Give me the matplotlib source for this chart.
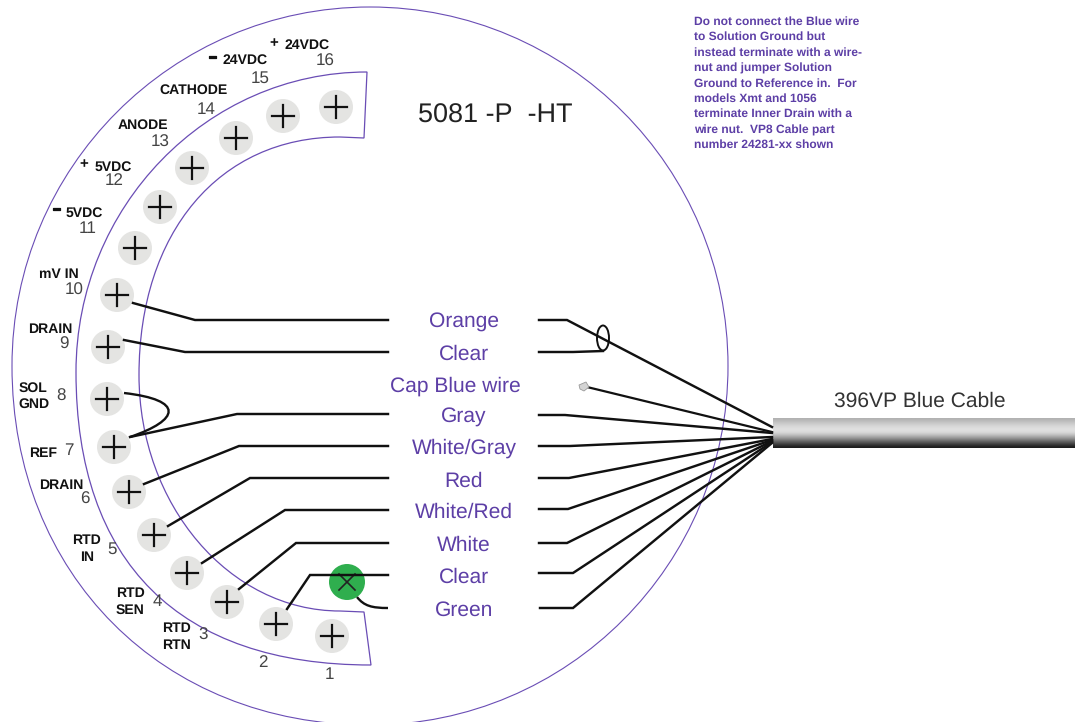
import matplotlib
matplotlib.use("Agg")
import matplotlib.pyplot as plt
import matplotlib.patheffects as pe
import numpy as np
from matplotlib.patches import Circle, Ellipse, PathPatch, Polygon
from matplotlib.path import Path

plt.rcParams['font.family'] = ['Liberation Sans', 'DejaVu Sans']
plt.rcParams['text.hinting'] = 'no_hinting'
plt.rcParams['text.hinting_factor'] = 1

PURPLE = '#5d3fa6'
RING = '#6a4db5'

# terminal screws, 1 to 16, picture coordinates
screw_x = [332, 276, 227, 187, 154, 129, 114, 107, 108, 117, 135, 160, 192, 236, 283, 336]
screw_y = [636, 624, 602, 573, 535, 492, 447, 399, 347, 295, 248, 207, 168, 138, 116, 107]

terminal_nums = ['1', '2', '3', '4', '5', '6', '7', '8', '9', '10', '11', '12', '13', '14', '15', '16']
num_x = [329, 263, 203, 157, 112, 85, 69, 61, 64, 74, 88, 114, 160, 206, 260, 325]
num_y = [673, 661, 634, 600, 548, 498, 449, 395, 343, 289, 227, 179, 141, 108, 77, 60]

term_labels = ['RTD', 'RTN', 'RTD', 'SEN', 'RTD', 'IN', 'DRAIN', 'REF', 'SOL', 'GND', 'DRAIN', 'mV IN',
               '5VDC', '5VDC', 'ANODE', 'CATHODE', '24VDC', '24VDC']
term_label_x = [176, 176, 130, 130, 86, 87, 61, 43, 33, 34, 50, 59, 84, 113, 143, 194, 245, 307]
term_label_y = [627, 644, 592, 609, 539, 556, 484, 452, 387, 403, 328, 273, 212, 166, 124, 89, 59, 44]

minus_x = [57, 213]
minus_y = [209, 57]
plus_x = [84, 274]
plus_y = [164, 43]

# wire colours in the middle column
wire_names = ['Orange', 'Clear', 'Cap Blue wire', 'Gray', 'White/Gray', 'Red', 'White/Red', 'White', 'Clear', 'Green']
wire_name_x = [464, 464, 455, 464, 464, 464, 464, 464, 464, 464]
wire_name_y = [320, 352, 384, 415, 446, 479, 510, 543, 575, 608]

# left hand runs, screw to label
left_x = [[133, 195, 388], [124, 185, 388], [130, 237, 388], [144, 239, 388], [168, 250, 388],
          [202, 285, 388], [239, 296, 388], [287, 310, 388]]
left_y = [[303, 320, 320], [340, 352, 352], [437, 414, 414], [484, 446, 446], [526, 478, 478],
          [563, 510, 510], [589, 543, 543], [609, 575, 575]]

# right hand runs, label to cable end
right_x = [[539, 567, 772], [539, 565, 772], [539, 570, 772], [539, 569, 772], [539, 568, 772],
           [539, 567, 772], [539, 573, 772], [540, 573, 772]]
right_y = [[320, 320, 427], [415, 415, 433], [446, 446, 437], [478, 478, 439], [509, 509, 440],
           [543, 543, 441], [573, 573, 442], [608, 608, 443]]
clear_x = [539, 573, 603]
clear_y = [352, 352, 351]
cap_x = [587, 772]
cap_y = [387, 432]

note_lines = ['Do not connect the Blue wire', 'to Solution Ground but', 'instead terminate with a wire-',
              'nut and jumper Solution', 'Ground to Reference in.  For', 'models Xmt and 1056',
              'terminate Inner Drain with a', 'wire nut.  VP8 Cable part', 'number 24281-xx shown']
note_y = [21, 36, 52, 67, 83, 98, 113, 129, 144]

fig = plt.figure(figsize=(10.75, 7.22), dpi=100)
ax = fig.add_axes([0, 0, 1, 1])
ax.set_xlim(0, 1075)
ax.set_ylim(722, 0)
ax.axis('off')


def quarter(start, end, k):
    # cubic from a side point (vertical tangent) to a top/bottom point (flat tangent)
    sx, sy = start
    ex, ey = end
    return [(sx, sy + k * (ey - sy)), (ex + k * (sx - ex), ey), end]


def draw_curve(start, segs, **kw):
    verts = [start]
    codes = [Path.MOVETO]
    for s in segs:
        if len(s) == 3:
            verts += s
            codes += [Path.CURVE4] * 3
        else:
            verts += s
            codes += [Path.LINETO]
    ax.add_patch(PathPatch(Path(verts, codes), fc='none', **kw))


# housing
draw_curve((12, 366), [quarter((12, 366), (370, 7), 0.5523)], ec=RING, lw=0.8)
draw_curve((12, 366), [quarter((12, 366), (370, 725), 0.58)], ec=RING, lw=0.8)
draw_curve((728, 366), [quarter((728, 366), (370, 7), 0.5523)], ec=RING, lw=0.8)
draw_curve((728, 366), [quarter((728, 366), (370, 725), 0.5523)], ec=RING, lw=0.8)

# terminal strip
draw_curve((76, 372), [quarter((76, 372), (367, 72), 0.55), [(364, 138)], [(340, 137)]], ec=RING, lw=0.9)
draw_curve((76, 372), [quarter((76, 372), (371, 665), 0.65), [(364, 612)], [(340, 611)]], ec=RING, lw=0.9)
draw_curve((139, 375), [quarter((139, 375), (340, 137), 0.6)], ec=RING, lw=0.9)
draw_curve((139, 375), [quarter((139, 375), (340, 611), 0.55)], ec=RING, lw=0.9)

# screws
for x, y in zip(screw_x, screw_y):
    ax.add_patch(Circle((x, y), 17, fc='#e4e4e2', ec='none', zorder=2))
    ax.plot([x - 11, x + 11], [y, y], color='#111111', lw=1.6, zorder=3)
    ax.plot([x, x], [y - 11, y + 11], color='#111111', lw=1.6, zorder=3)

# green ground screw
ax.add_patch(Circle((347, 582), 18, fc='#2fae4e', ec='none', zorder=2))
ax.plot([339, 355], [574, 590], color='#222222', lw=1.2, zorder=3)
ax.plot([339, 355], [590, 574], color='#222222', lw=1.2, zorder=3)

# wires
for xs, ys in zip(left_x, left_y):
    ax.plot(xs, ys, color='#111111', lw=1.75, solid_joinstyle='miter', zorder=4)
for xs, ys in zip(right_x, right_y):
    ax.plot(xs, ys, color='#111111', lw=1.75, solid_joinstyle='miter', zorder=4)
ax.plot(clear_x, clear_y, color='#111111', lw=1.75, zorder=4)
ax.plot(cap_x, cap_y, color='#111111', lw=1.6, zorder=4)

# jumper 8 to 7 and the green pigtail
jumper = Path([(124, 393), (185, 400), (180, 420), (130, 437)], [Path.MOVETO, Path.CURVE4, Path.CURVE4, Path.CURVE4])
ax.add_patch(PathPatch(jumper, fc='none', ec='#111111', lw=1.7, zorder=4))
pigtail = Path([(357, 597), (364, 606), (372, 608), (388, 608)], [Path.MOVETO, Path.CURVE4, Path.CURVE4, Path.CURVE4])
ax.add_patch(PathPatch(pigtail, fc='none', ec='#111111', lw=1.7, zorder=4))

# shield loop and capped wire end
ax.add_patch(Ellipse((603, 338), 12, 25, fc='none', ec='#111111', lw=1.4, zorder=5))
ax.add_patch(Polygon([(579, 385), (586, 382), (589, 387), (584, 391), (580, 389)], fc='#d4d4d4', ec='#999999', lw=0.6, zorder=5))

# cable body
shade = np.array([178, 188, 198, 208, 216, 222, 224, 218, 202, 180, 155, 128, 100, 74, 50, 30])
ax.imshow(shade.reshape(-1, 1), cmap='gray', vmin=0, vmax=255, aspect='auto', extent=(773, 1075, 448, 418),
          interpolation='bilinear', zorder=3)
ax.set_xlim(0, 1075)
ax.set_ylim(722, 0)

# text
for s, x, y in zip(terminal_nums, num_x, num_y):
    ax.text(x, y, s, fontsize=12.5, color='#444444', ha='center', va='center_baseline')
for s, x, y in zip(term_labels, term_label_x, term_label_y):
    ax.text(x, y, s, fontsize=10.3, fontweight='bold', color='#111111', ha='center', va='center_baseline')
for x, y in zip(minus_x, minus_y):
    ax.text(x, y, '\u2013', fontsize=10.5, fontweight='bold', color='#111111', ha='center', va='center',
            path_effects=[pe.withStroke(linewidth=0.9, foreground='#111111')])
for x, y in zip(plus_x, plus_y):
    ax.text(x, y, '+', fontsize=11, fontweight='bold', color='#111111', ha='center', va='center')
for s, x, y in zip(wire_names, wire_name_x, wire_name_y):
    ax.text(x, y, s, fontsize=15.2, color=PURPLE, ha='center', va='center_baseline')
for s, y in zip(note_lines, note_y):
    ax.text(694, y, s, fontsize=8.4, fontweight='bold', color=PURPLE, ha='left', va='center_baseline')
ax.text(495, 113, '5081 -P  -HT', fontsize=19.5, color='#222222', ha='center', va='center_baseline')
ax.text(920, 399, '396VP Blue Cable', fontsize=15.2, color='#333333', ha='center', va='center_baseline')

fig.savefig('out.png', dpi=100)
